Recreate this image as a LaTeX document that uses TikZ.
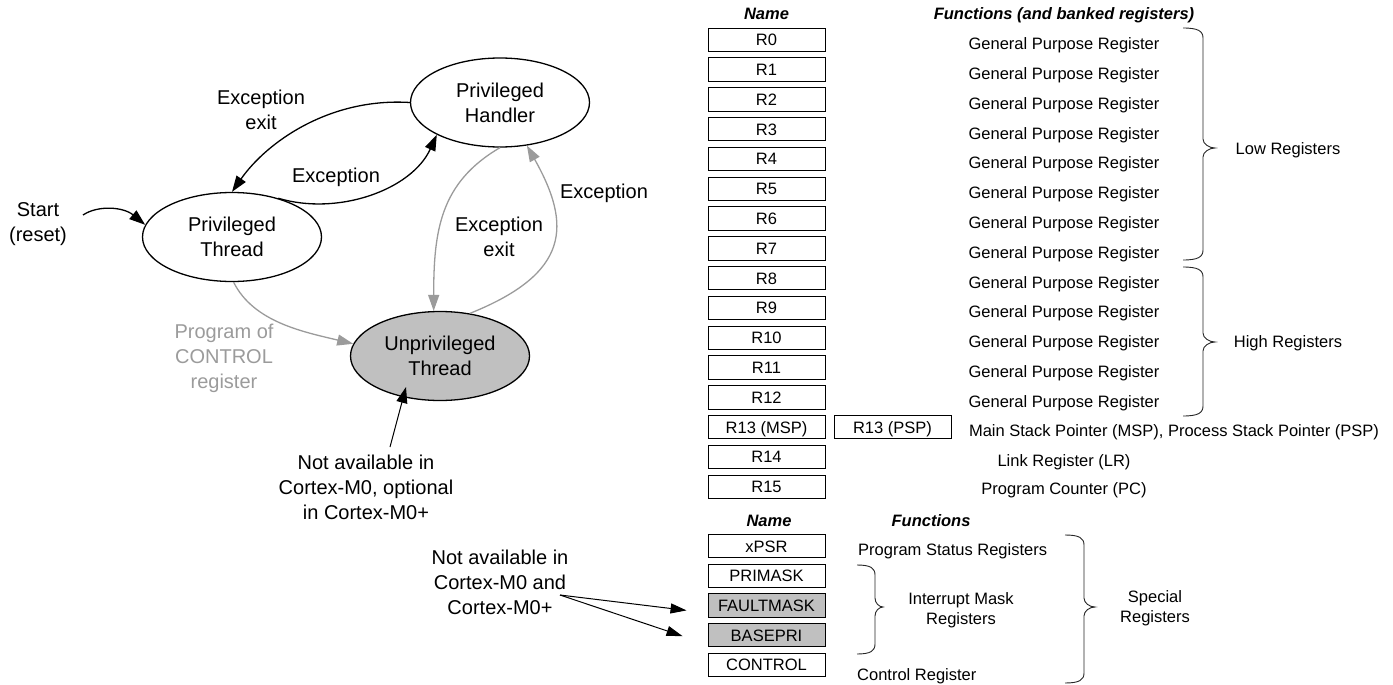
\documentclass[tikz,border=0pt]{standalone}
\usepackage{fontspec}
\setmainfont{Liberation Sans}
\usetikzlibrary{arrows.meta,calc,shapes.geometric}
\definecolor{mygray}{RGB}{155,155,155}
\definecolor{fillgray}{RGB}{192,192,192}
\newcommand{\lfnt}{\fontsize{20}{25}\selectfont}
\newcommand{\rfnt}{\fontsize{16.5}{20}\selectfont}
\newcommand{\mybrace}[6]{\draw[bracestyle] (#1,#2) .. controls ({#1+#5*0.75},#2) and ({#1+#5},{#2+3}) .. ({#1+#5},{#2+10}) -- ({#1+#5},{#4-9}) .. controls ({#1+#5},{#4-4}) and ({#1+#5+(#6-#5)*0.5},#4) .. ({#1+#6},#4) .. controls ({#1+#5+(#6-#5)*0.5},#4) and ({#1+#5},{#4+4}) .. ({#1+#5},{#4+9}) -- ({#1+#5},{#3-10}) .. controls ({#1+#5},{#3-3}) and ({#1+#5*0.75},#3) .. (#1,#3);}
\tikzset{
  state/.style={ellipse, draw, line width=1.3pt, minimum width=179pt, minimum height=89pt, inner sep=0pt, align=center, font=\lfnt},
  lbl/.style={font=\lfnt, align=center, inner sep=0pt},
  reg/.style={draw, line width=0.9pt, minimum width=117pt, minimum height=23.5pt, inner sep=0pt, font=\rfnt, text height=12pt, text depth=0pt},
  func/.style={font=\rfnt, inner sep=0pt, text height=12pt, text depth=0pt},
  head/.style={font=\rfnt\bfseries\itshape, inner sep=0pt, text height=12pt, text depth=0pt},
  arr/.style={-{Triangle[length=16pt,width=11pt]}, line width=1.3pt},
  garr/.style={arr, color=mygray},
  sarr/.style={-{Triangle[length=16pt,width=10pt]}, line width=1pt},
  bracestyle/.style={line width=0.9pt, draw=black!85},
}
\begin{document}
\begin{tikzpicture}[x=1pt,y=-1pt]
\useasboundingbox (0,0) rectangle (1393,685);
% states
\node[state] (h) at (500,102.5) {Privileged\\Handler};
\node[state] (t) at (232,237) {Privileged\\Thread};
\node[state, fill=fillgray] (u) at (440,356) {Unprivileged\\Thread};
% labels
\node[lbl] (start) at (38,224.5) {Start\\(reset)};
\coordinate (s0) at (83,215);
\node[lbl] (lexx) at (261,109.5) {Exception\\exit};
\node[lbl] (lex) at (336,177) {Exception};
\node[lbl] (rex) at (604,193) {Exception};
\node[lbl] (mexx) at (499,236.5) {Exception\\exit};
\node[lbl, text=mygray] (prog) at (224,358.5) {Program of\\CONTROL\\register};
\node[lbl] (note1) at (366,487) {Not available in\\Cortex-M0, optional\\in Cortex-M0+};
\node[lbl] (note2) at (500,582) {Not available in\\Cortex-M0 and\\Cortex-M0+};
\coordinate (n1s) at (390,447);
\coordinate (utip) at ($(u.center)+(-34,31)$);
\coordinate (n2s) at (560,595);
% connectors
\draw[arr] (s0) .. controls +(15,-10) and +(-22,-18) .. (t.172);
\draw[arr] (h.180) .. controls +(-80,-5) and +(35,-50) .. (t.90);
\draw[arr] (t.40) .. controls +(60,18) and +(-25,55) .. (h.207);
\draw[garr] (h.270) .. controls +(-60,35) and +(0,-80) .. (u.98);
\draw[garr] (u.55) .. controls +(100,-40) and +(45,80) .. (h.302);
\draw[garr] (t.272) .. controls +(20,40) and +(-50,-12) .. (u.172);
\draw[arr, line width=1pt] (n1s) -- (utip);
% registers
\node[head] (hname) at (766.5,14) {Name};
\node[head] (hfunc) at (1064,14) {Functions (and banked registers)};
\foreach \i in {0,...,12} {
  \node[reg] (r\i) at (766.5,{39.75+29.8*\i}) {R\i};
  \node[func] (f\i) at (1064,{43.75+29.8*\i}) {General Purpose Register};
}
\node[reg] (r13) at (766.5,427.15) {R13 (MSP)};
\node[reg] (psp) at (892.5,427.15) {R13 (PSP)};
\node[reg] (r14) at (766.5,456.95) {R14};
\node[reg] (r15) at (766.5,486.75) {R15};
\node[func] (f13) at (1174,430.7) {Main Stack Pointer (MSP), Process Stack Pointer (PSP)};
\node[func] (f14) at (1064,460.3) {Link Register (LR)};
\node[func] (f15) at (1064,488.5) {Program Counter (PC)};
\mybrace{1183}{28}{260}{148}{20}{32}
\mybrace{1183}{267}{416}{342}{20}{32}
\node[func] (low) at (1288,148) {Low Registers};
\node[func] (high) at (1288,341) {High Registers};
% special registers
\node[head] (sname) at (769,520) {Name};
\node[head] (sfunc) at (931,520) {Functions};
\node[reg] (xpsr) at (766.5,546) {xPSR};
\node[reg] (pm) at (766.5,575.7) {PRIMASK};
\node[reg, fill=fillgray] (fm) at (766.5,605.4) {FAULTMASK};
\node[reg, fill=fillgray] (bp) at (766.5,635.1) {BASEPRI};
\node[reg] (ctl) at (766.5,664.8) {CONTROL};
\node[func, anchor=west] (psr) at (858,549.5) {Program Status Registers};
\node[func, anchor=west] (cr) at (857,674) {Control Register};
\mybrace{857}{565}{654}{607}{18}{26}
\mybrace{1065}{535}{683}{607}{19}{30}
\node[func, align=center, text height=, text depth=] (imr) at (961,610) {Interrupt Mask\\Registers};
\node[func, align=center, text height=, text depth=] (spr) at (1155,608.5) {Special\\Registers};
\draw[sarr] (n2s) -- ([xshift=-21pt,yshift=-5pt]fm.west);
\draw[sarr] (n2s) -- ([xshift=-25pt,yshift=-1pt]bp.west);
\end{tikzpicture}
\end{document}
